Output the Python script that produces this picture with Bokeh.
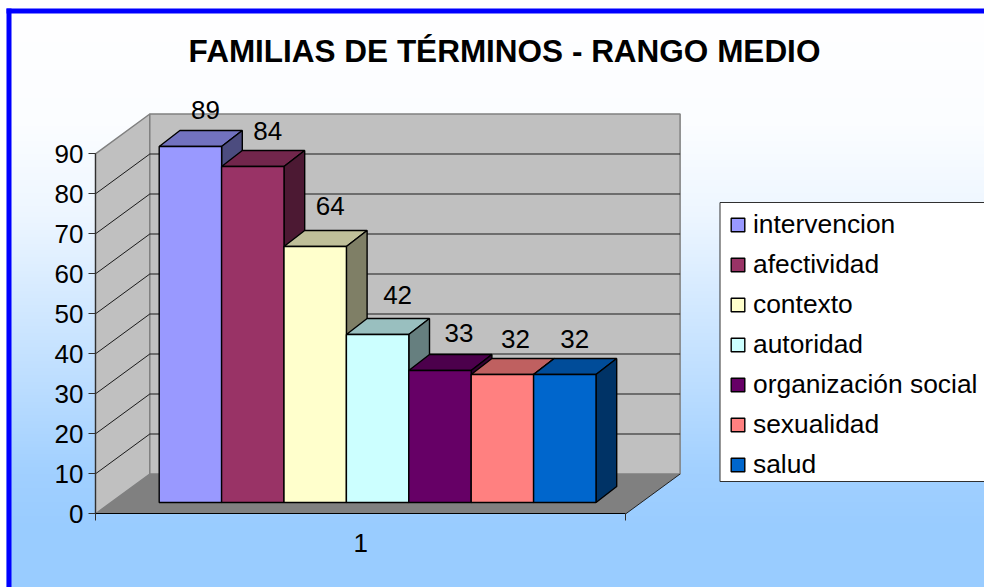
from bokeh.plotting import figure
from bokeh.embed import file_html
from bokeh.resources import INLINE
from bokeh.models import Legend, LegendItem, FixedTicker
from bokeh.core.properties import value
import numpy as np

title = "FAMILIAS DE TÉRMINOS - RANGO MEDIO"
categories = ["intervencion", "afectividad", "contexto", "autoridad",
              "organización social", "sexualidad", "salud"]
values = [89, 84, 64, 42, 33, 32, 32]
colors = ["#9999FF", "#993366", "#FFFFCC", "#CCFFFF", "#660066", "#FF8080", "#0066CC"]
y_ticks = [0, 10, 20, 30, 40, 50, 60, 70, 80, 90]
x_ticks = [1]

FONT = "Liberation Sans"
PX_PER_UNIT_X, PX_PER_UNIT_Y = 62.4, 4.0
W, H = 984, 587
BG_L, BG_T = 6, 8
X0_PX, Y0_PX = 360.15, 513.3

def X(px):
    return 1 + (px - X0_PX) / PX_PER_UNIT_X
def Y(py):
    return (Y0_PX - py) / PX_PER_UNIT_Y

p = figure(width=W, height=H, output_backend="svg", toolbar_location=None,
           x_range=(X(0), X(W)), y_range=(Y(H), Y(0)),
           min_border=0, min_border_left=0, min_border_right=0,
           min_border_top=0, min_border_bottom=0)
p.outline_line_color = None
p.xgrid.visible = False
p.ygrid.visible = False
p.border_fill_color = None

# gradient background (white -> #99CCFF)
rows_n = H - BG_T
rows = np.arange(rows_n)[::-1] + BG_T
t = np.interp(rows, [13, 128, 214, 300, 386, 472, 530], [0, .04, .17, .42, .66, .92, 1])
img = np.empty((rows_n, 1), dtype=np.uint32)
view = img.view(dtype=np.uint8).reshape((rows_n, 1, 4))
view[:, 0, 0] = (255 + (0x99 - 255) * t).astype(np.uint8)
view[:, 0, 1] = (255 + (0xCC - 255) * t).astype(np.uint8)
view[:, 0, 2] = 255
view[:, 0, 3] = 255
p.image_rgba(image=[img], x=X(BG_L), y=Y(H), dw=(W - BG_L) / PX_PER_UNIT_X, dh=rows_n / PX_PER_UNIT_Y)

# blue frame (left and top only; the rest runs off the picture)
p.quad(left=X(BG_L), right=X(11), bottom=Y(H), top=Y(BG_T), fill_color="#0000FF", line_color=None)
p.quad(left=X(BG_L), right=X(W), bottom=Y(13), top=Y(BG_T), fill_color="#0000FF", line_color=None)

# walls: depth of the chart box
wall_dx = (149.3 - 95) / PX_PER_UNIT_X
wall_dy = 39.8 / PX_PER_UNIT_Y
fx0, fx1 = X(95), X(625.3)
vmax = y_ticks[-1]
p.patch([fx0, fx0 + wall_dx, fx0 + wall_dx, fx0], [0, wall_dy, vmax + wall_dy, vmax],
        fill_color="#C0C0C0", line_color="#808080", line_width=1.5)
p.quad(left=fx0 + wall_dx, right=fx1 + wall_dx, bottom=wall_dy, top=vmax + wall_dy,
       fill_color="#C0C0C0", line_color="#808080", line_width=1.5)
p.patch([fx0, fx1, fx1 + wall_dx, fx0 + wall_dx], [0, 0, wall_dy, wall_dy],
        fill_color="#808080", line_color=None)
p.line([fx1, fx1 + wall_dx], [0, wall_dy], line_color="#202020", line_width=1)

# grid lines
grid = [v for v in y_ticks if 0 < v < vmax]
p.multi_line([[fx0, fx0 + wall_dx, fx1 + wall_dx] for v in grid],
             [[v, v + wall_dy, v + wall_dy] for v in grid],
             line_color="#1a1a1a", line_width=1)

# 3-D bars
base = (Y0_PX - 502) / PX_PER_UNIT_Y
bar_shift = (158.7 - (X0_PX - 3.5 * PX_PER_UNIT_X)) / PX_PER_UNIT_X
bar_dx = 20.7 / PX_PER_UNIT_X
bar_dy = 16 / PX_PER_UNIT_Y

def shade(c, k):
    r, g, b = (int(c[i:i + 2], 16) for i in (1, 3, 5))
    return "#%02X%02X%02X" % (int(r * k), int(g * k), int(b * k))

items = []
for i, (name, v, c) in enumerate(zip(categories, values, colors)):
    l = 1 + bar_shift + (i - 3.5)
    r = l + 1
    t_ = base + v
    # top face
    p.patch([l, r, r + bar_dx, l + bar_dx], [t_, t_, t_ + bar_dy, t_ + bar_dy],
            fill_color=shade(c, 0.75), line_color="black", line_width=1.4)
    # side face
    p.patch([r, r + bar_dx, r + bar_dx, r], [base, base + bar_dy, t_ + bar_dy, t_],
            fill_color=shade(c, 0.5), line_color="black", line_width=1.4)
    # front face
    front = p.quad(left=l, right=r, bottom=base, top=t_, fill_color=c,
                   line_color="black", line_width=1.4)
    items.append(LegendItem(label=name, renderers=[front]))

# data labels
nudge_px = [(15, -37), (15, -36), (15, -41), (20, -40), (19, -38), (13, -36), (10, -36)]
lx = [1 + bar_shift + (i - 3) + nudge_px[i][0] / PX_PER_UNIT_X for i in range(len(values))]
ly = [base + v - nudge_px[i][1] / PX_PER_UNIT_Y for i, v in enumerate(values)]
p.text(lx, ly, text=[str(v) for v in values], text_font=value(FONT), text_font_size="26px",
       text_align="center", text_baseline="middle", text_color="black")

# title
p.text([X(504)], [Y(50)], text=[title], text_font=value(FONT), text_font_size="31.5px",
       text_font_style="bold", text_align="center", text_baseline="alphabetic", text_color="black")

# axes
ya = p.yaxis[0]
ya.fixed_location = fx0
ya.bounds = (y_ticks[0], y_ticks[-1])
ya.ticker = FixedTicker(ticks=y_ticks)
ya.major_tick_in = 0
ya.major_tick_out = 7
ya.minor_tick_line_color = None
ya.axis_line_color = "#303030"
ya.axis_line_width = 1.2
ya.major_tick_line_color = "#303030"
ya.major_label_text_font = FONT
ya.major_label_text_font_size = "26px"
ya.major_label_text_color = "black"
ya.major_label_standoff = 5

xa = p.xaxis[0]
xa.fixed_location = 0
xa.bounds = (fx0, fx1)
xa.ticker = FixedTicker(ticks=x_ticks, minor_ticks=[fx0, fx1])
xa.major_tick_in = 0
xa.major_tick_out = 0
xa.minor_tick_in = 0
xa.minor_tick_out = 7
xa.minor_tick_line_color = "#303030"
xa.axis_line_color = "black"
xa.axis_line_width = 1.2
xa.major_label_text_font = FONT
xa.major_label_text_font_size = "26px"
xa.major_label_text_color = "black"
xa.major_label_standoff = 13

# legend box and legend
p.quad(left=X(719.5), right=X(W + 5), bottom=Y(481), top=Y(202), fill_color="white",
       line_color="#303030", line_width=1)
legend = Legend(items=items, location=(729, 107), padding=0, margin=0, spacing=9,
                glyph_width=17, glyph_height=17, label_standoff=7,
                label_text_font=FONT, label_text_font_size="26.4px", label_text_color="black",
                label_text_baseline="middle",
                background_fill_alpha=0, border_line_color=None)
p.add_layout(legend, "center")

open("out.html", "w").write(file_html(p, INLINE))
